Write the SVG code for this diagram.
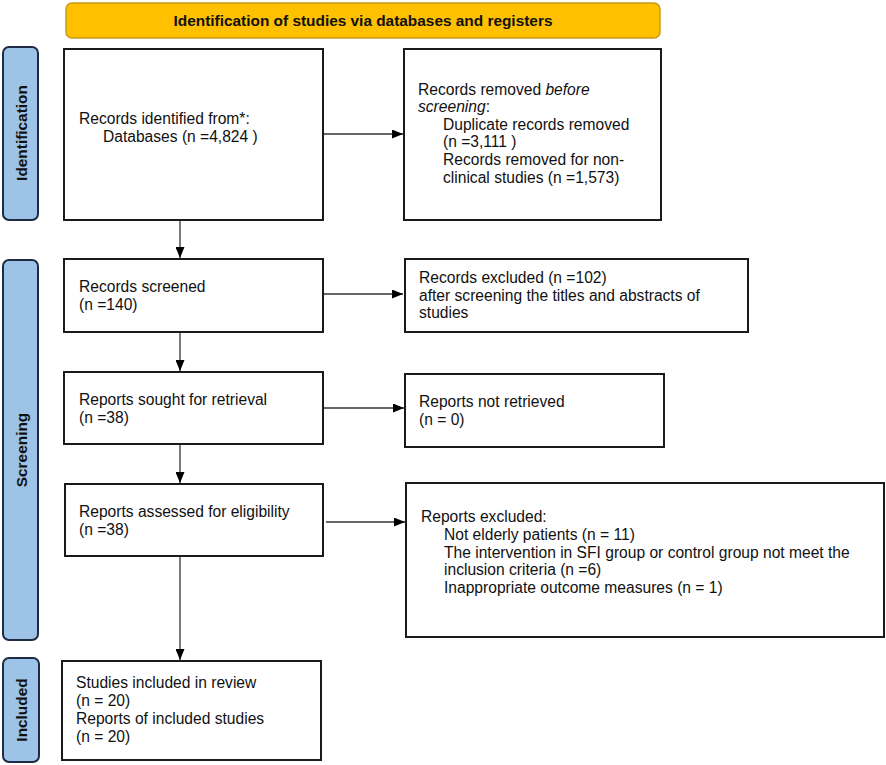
<svg xmlns="http://www.w3.org/2000/svg" width="886" height="765" viewBox="0 0 886 765">
<defs>
<style>
.box{fill:#fff;stroke:#1a1a1a;stroke-width:2}
.side{fill:#9dc3e6;stroke:#1f2a44;stroke-width:2}
.t{font-family:"Liberation Sans",Arial,sans-serif;font-size:15.6px;fill:#111}
.b{font-family:"Liberation Sans",Arial,sans-serif;font-size:15.4px;font-weight:bold;fill:#111}
.c{stroke:#333;stroke-width:1.3;fill:none}
</style>
<marker id="ah" markerWidth="11" markerHeight="9" refX="11" refY="4.5" orient="auto" markerUnits="userSpaceOnUse">
<path d="M0,0 L11,4.5 L0,9 Z" fill="#000"/>
</marker>
</defs>
<rect width="886" height="765" fill="#fff"/>

<g id="banner">
<rect x="66" y="3" width="594" height="35" rx="6" fill="#ffc000" stroke="#c99a1a" stroke-width="1.5"/>
<text class="b" x="363" y="26" text-anchor="middle">Identification of studies via databases and registers</text>
</g>

<g id="phase-identification">
<rect class="side" x="3" y="47" width="35" height="173" rx="6"/>
<text class="b" transform="translate(27,133) rotate(-90)" text-anchor="middle">Identification</text>
</g>
<g id="phase-screening">
<rect class="side" x="3" y="260" width="35" height="380" rx="6"/>
<text class="b" transform="translate(27,450) rotate(-90)" text-anchor="middle">Screening</text>
</g>
<g id="phase-included">
<rect class="side" x="3" y="658" width="36" height="104" rx="6"/>
<text class="b" transform="translate(27,710) rotate(-90)" text-anchor="middle">Included</text>
</g>

<g id="records-identified">
<rect class="box" x="64" y="49" width="259" height="171"/>
<text class="t" x="79" y="124">Records identified from*:</text>
<text class="t" x="103" y="142">Databases (n =4,824 )</text>
</g>

<g id="records-removed">
<rect class="box" x="404" y="49" width="257" height="171"/>
<text class="t" x="418" y="95">Records removed <tspan font-style="italic">before</tspan></text>
<text class="t" x="418" y="112"><tspan font-style="italic">screening</tspan>:</text>
<text class="t" x="443" y="130">Duplicate records removed</text>
<text class="t" x="443" y="147">(n =3,111 )</text>
<text class="t" x="443" y="165">Records removed for non-</text>
<text class="t" x="443" y="183">clinical studies (n =1,573)</text>
</g>

<g id="records-screened">
<rect class="box" x="64" y="259" width="259" height="73"/>
<text class="t" x="79" y="292">Records screened</text>
<text class="t" x="79" y="310">(n =140)</text>
</g>

<g id="records-excluded">
<rect class="box" x="405" y="259" width="343" height="73"/>
<text class="t" x="419" y="283">Records excluded (n =102)</text>
<text class="t" x="419" y="301">after screening the titles and abstracts of</text>
<text class="t" x="419" y="318">studies</text>
</g>

<g id="reports-sought">
<rect class="box" x="64" y="372" width="259" height="72"/>
<text class="t" x="79" y="405">Reports sought for retrieval</text>
<text class="t" x="79" y="423">(n =38)</text>
</g>

<g id="reports-not-retrieved">
<rect class="box" x="405" y="374" width="259" height="73"/>
<text class="t" x="419" y="407">Reports not retrieved</text>
<text class="t" x="419" y="425">(n = 0)</text>
</g>

<g id="reports-assessed">
<rect class="box" x="65" y="484" width="258" height="72"/>
<text class="t" x="79" y="517">Reports assessed for eligibility</text>
<text class="t" x="79" y="535">(n =38)</text>
</g>

<g id="reports-excluded">
<rect class="box" x="406" y="483" width="478" height="154"/>
<text class="t" x="421" y="522">Reports excluded:</text>
<text class="t" x="444" y="540">Not elderly patients (n = 11)</text>
<text class="t" x="444" y="558">The intervention in SFI group or control group not meet the</text>
<text class="t" x="444" y="575">inclusion criteria (n =6)</text>
<text class="t" x="444" y="593">Inappropriate outcome measures (n = 1)</text>
</g>

<g id="studies-included">
<rect class="box" x="62" y="661" width="259" height="99"/>
<text class="t" x="76" y="688">Studies included in review</text>
<text class="t" x="76" y="706">(n = 20)</text>
<text class="t" x="76" y="724">Reports of included studies</text>
<text class="t" x="76" y="742">(n = 20)</text>
</g>

<g id="connectors">
<line class="c" x1="324" y1="134" x2="403" y2="134" marker-end="url(#ah)"/>
<line class="c" x1="180" y1="221" x2="180" y2="258" marker-end="url(#ah)"/>
<line class="c" x1="324" y1="294" x2="403" y2="294" marker-end="url(#ah)"/>
<line class="c" x1="180" y1="333" x2="180" y2="371" marker-end="url(#ah)"/>
<line class="c" x1="324" y1="408" x2="404" y2="408" marker-end="url(#ah)"/>
<line class="c" x1="180" y1="445" x2="180" y2="483" marker-end="url(#ah)"/>
<line class="c" x1="326" y1="522" x2="405" y2="522" marker-end="url(#ah)"/>
<line class="c" x1="180" y1="557" x2="180" y2="660" marker-end="url(#ah)"/>
</g>
</svg>
